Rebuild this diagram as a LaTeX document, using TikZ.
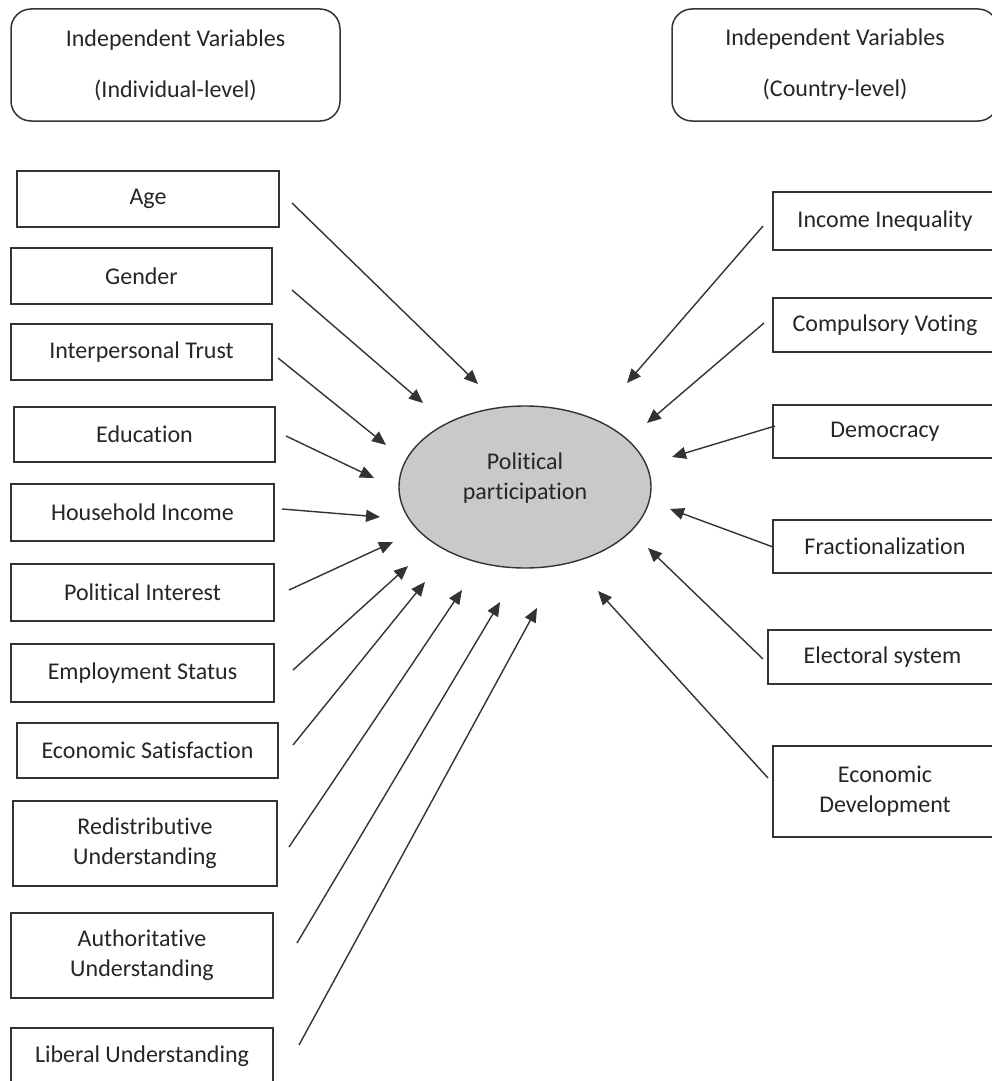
\documentclass[tikz,border=0pt]{standalone}
\usepackage{fontspec}
\setmainfont{Carlito}[Ligatures={NoCommon,NoContextual}]
\usetikzlibrary{arrows.meta,shapes.geometric}
\begin{document}
\begin{tikzpicture}[x=1pt,y=-1pt,
  every node/.style={font=\fontsize{24}{30}\selectfont, text=black!85},
  varbox/.style={draw=black!80, line width=1.5pt, inner sep=0pt, align=center, fill=white},
  headbox/.style={varbox, rounded corners=20pt, font=\fontsize{24}{51}\selectfont},
  link/.style={draw=black!80, line width=1.4pt, -{Triangle[length=14pt,width=12pt]}}]
\useasboundingbox (0,0) rectangle (992,1081);
\clip (0,0) rectangle (992,1081);
\fill[white] (0,0) rectangle (992,1081);

% heading boxes
\node[headbox, minimum width=329pt, minimum height=112pt] (hl) at (175.5,65) {Independent Variables\\(Individual-level)};
\node[headbox, minimum width=326pt, minimum height=112pt] (hr) at (835,65) {Independent Variables\\(Country-level)};

% central ellipse
\node[ellipse, draw=black!80, line width=1.4pt, fill={rgb,255:red,201;green,201;blue,201}, minimum width=252pt, minimum height=162pt, inner sep=0pt] (pp) at (525,487) {};
\node[align=center] (ppt) at (525,478) {Political\\participation};

% left boxes
\node[varbox, minimum width=262pt, minimum height=56pt] (age) at (148,199) {Age};
\node[varbox, minimum width=261pt, minimum height=56pt] (gen) at (141.5,276) {Gender};
\node[varbox, minimum width=261pt, minimum height=56pt] (tru) at (141.5,352) {Interpersonal Trust};
\node[varbox, minimum width=261pt, minimum height=55pt] (edu) at (144.5,434.5) {Education};
\node[varbox, minimum width=263pt, minimum height=57pt] (inc) at (142.5,512.5) {Household Income};
\node[varbox, minimum width=263pt, minimum height=57pt] (int) at (142.5,592.5) {Political Interest};
\node[varbox, minimum width=263pt, minimum height=58pt] (emp) at (142.5,673) {Employment Status};
\node[varbox, minimum width=261pt, minimum height=55pt] (sat) at (147.5,750.5) {Economic Satisfaction};
\node[varbox, minimum width=264pt, minimum height=85pt] (red) at (145,843.5) {Redistributive\\Understanding};
\node[varbox, minimum width=262pt, minimum height=85pt] (aut) at (142,955.5) {Authoritative\\Understanding};
\node[varbox, minimum width=262pt, minimum height=56pt] (lib) at (142,1056) {Liberal Understanding};

% right boxes
\node[varbox, minimum width=224pt, minimum height=58pt] (ineq) at (885,221) {Income Inequality};
\node[varbox, minimum width=224pt, minimum height=54pt] (comp) at (885,325) {Compulsory Voting};
\node[varbox, minimum width=224pt, minimum height=53pt] (dem) at (885,431.5) {Democracy};
\node[varbox, minimum width=224pt, minimum height=53pt] (frac) at (885,546.5) {Fractionalization};
\node[varbox, minimum width=229pt, minimum height=54pt] (elec) at (882.5,657) {Electoral system};
\node[varbox, minimum width=224pt, minimum height=91pt] (dev) at (885,791.5) {Economic\\Development};

% connector end points
\coordinate (s1) at (292,203);  \coordinate (t1) at (478,384);
\coordinate (s2) at (292,290);  \coordinate (t2) at (423,403);
\coordinate (s3) at (278,358);  \coordinate (t3) at (386,445);
\coordinate (s4) at (286,436);  \coordinate (t4) at (374,478);
\coordinate (s5) at (282,509);  \coordinate (t5) at (380,517);
\coordinate (s6) at (289,590);  \coordinate (t6) at (393,542);
\coordinate (s7) at (293,670);  \coordinate (t7) at (408,566);
\coordinate (s8) at (293,745);  \coordinate (t8) at (425,582);
\coordinate (s9) at (289,847);  \coordinate (t9) at (462,590);
\coordinate (s10) at (297,943); \coordinate (t10) at (500,602);
\coordinate (s11) at (299,1045);\coordinate (t11) at (537,608);

\coordinate (r1) at (763,226);  \coordinate (u1) at (627,383);
\coordinate (r2) at (764,323);  \coordinate (u2) at (647,423);
\coordinate (r3) at (775,426);  \coordinate (u3) at (672,457);
\coordinate (r4) at (773,547);  \coordinate (u4) at (670,509);
\coordinate (r5) at (763,659);  \coordinate (u5) at (648,548);
\coordinate (r6) at (768,778);  \coordinate (u6) at (598,591);

\foreach \i in {1,...,11} { \draw[link] (s\i) -- (t\i); }
\foreach \i in {1,...,6} { \draw[link] (r\i) -- (u\i); }
\end{tikzpicture}
\end{document}
